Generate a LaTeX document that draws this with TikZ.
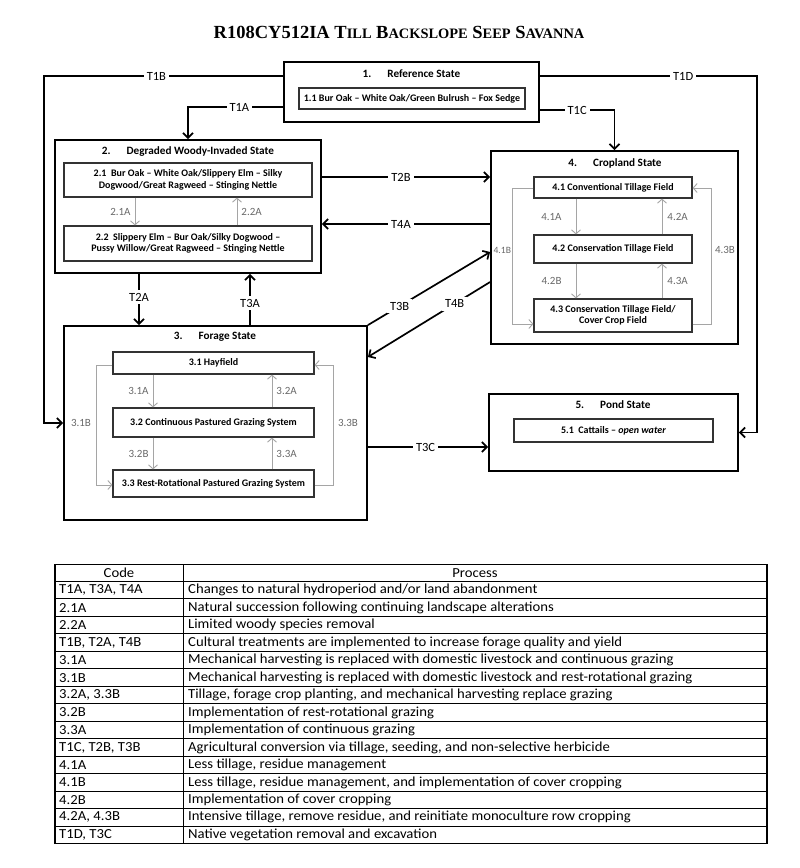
\documentclass[tikz,border=0pt]{standalone}
\usepackage{fontspec}
\setmainfont{Carlito}
\newfontfamily\titlefont{Liberation Serif}
\newfontfamily\tablefont[FakeStretch=1.065]{Carlito}
\usetikzlibrary{arrows.meta,calc}
\definecolor{garr}{RGB}{165,165,165}
\definecolor{glabc}{RGB}{105,105,105}
\newcommand\mysc[1]{{\fontsize{14.4}{15}\selectfont #1}}
\begin{document}
\begin{tikzpicture}[x=1pt,y=-1pt,
  statebox/.style={draw=black, line width=1.8pt, inner sep=0pt},
  subbox/.style={draw=black!80, line width=1.2pt, fill=white, align=center, inner sep=0pt, font=\fontsize{10}{11.5}\selectfont\bfseries},
  stitle/.style={font=\fontsize{11.2}{13}\selectfont\bfseries},
  tarrow/.style={line width=1.7pt, -{Straight Barb[length=5pt,width=10pt]}},
  tlab/.style={fill=white, inner sep=3pt, font=\fontsize{12.5}{14}\selectfont},
  garrow/.style={draw=garr, line width=0.9pt, -{Straight Barb[length=4pt,width=9pt]}},
  glab/.style={text=glabc, inner sep=1pt, font=\fontsize{11}{13}\selectfont},
  thead/.style={font=\tablefont\fontsize{13.8}{15}\selectfont, inner sep=0pt},
  tcell/.style={font=\tablefont\fontsize{13.8}{15}\selectfont, inner sep=0pt, anchor=west},
]
\useasboundingbox (0,0) rectangle (800,868);

% title
\node (title) at (399,32) {\titlefont\fontsize{18.5}{20}\selectfont\bfseries R108CY512IA T\mysc{ILL} B\mysc{ACKSLOPE} S\mysc{EEP} S\mysc{AVANNA}};

% state 1
\node[statebox, minimum width=255, minimum height=60] (s1) at (411.5,92) {};
\node[stitle] (s1t) at (411.5,73.5) {1.\hspace{16pt}Reference State};
\node[subbox, minimum width=226, minimum height=21] (s11) at (412,98.5) {1.1 Bur Oak -- White Oak/Green Bulrush -- Fox Sedge};

% state 2
\node[statebox, minimum width=266, minimum height=133] (s2) at (188,206.5) {};
\node[stitle] (s2t) at (188,152) {2.\hspace{16pt}Degraded Woody-Invaded State};
\node[subbox, minimum width=248, minimum height=34] (s21) at (188,180) {2.1\ \ Bur Oak -- White Oak/Slippery Elm -- Silky\\Dogwood/Great Ragweed -- Stinging Nettle};
\node[subbox, minimum width=248, minimum height=35] (s22) at (188,243.5) {2.2\ \ Slippery Elm -- Bur Oak/Silky Dogwood --\\Pussy Willow/Great Ragweed -- Stinging Nettle};

% state 3
\node[statebox, minimum width=303, minimum height=194] (s3) at (215.5,423) {};
\node[stitle] (s3t) at (215,337) {3.\hspace{16pt}Forage State};
\node[subbox, minimum width=201, minimum height=22] (s31) at (213.5,363) {3.1 Hayfield};
\node[subbox, minimum width=201, minimum height=29] (s32) at (213.5,422.5) {3.2 Continuous Pastured Grazing System};
\node[subbox, minimum width=201, minimum height=27] (s33) at (213.5,483.5) {3.3 Rest-Rotational Pastured Grazing System};

% state 4
\node[statebox, minimum width=247, minimum height=193] (s4) at (614.5,247.5) {};
\node[stitle] (s4t) at (615,163) {4.\hspace{16pt}Cropland State};
\node[subbox, minimum width=158, minimum height=21] (s41) at (613,187.5) {4.1 Conventional Tillage Field};
\node[subbox, minimum width=158, minimum height=28] (s42) at (613,249) {4.2 Conservation Tillage Field};
\node[subbox, minimum width=158, minimum height=33] (s43) at (613,315.5) {4.3 Conservation Tillage Field/\\Cover Crop Field};

% state 5
\node[statebox, minimum width=249, minimum height=77] (s5) at (613.5,432.5) {};
\node[stitle] (s5t) at (613,405) {5.\hspace{16pt}Pond State};
\node[subbox, minimum width=199, minimum height=23] (s51) at (613.5,430.5) {5.1\ \ Cattails -- \textit{open water}};

% transitions between states
\draw[tarrow] ([yshift=16pt]s1.west) -- node[tlab,pos=0.53]{T1B} (44,76) coordinate (k1b) |- (s3.west);
\draw[tarrow] ([yshift=-15pt]s1.west) -| node[tlab,pos=0.23]{T1A} (s2.north);
\draw[tarrow] ([yshift=-18pt]s1.east) -| node[tlab,pos=0.25]{T1C} (s4.north);
\draw[tarrow] ([yshift=16pt]s1.east) -- node[tlab,pos=0.66]{T1D} (757,76) coordinate (k1d) |- (s5.east);
\draw[tarrow] ([yshift=29.5pt]s2.east) coordinate (t2bs) -- node[tlab,pos=0.47]{T2B} (t2bs -| s4.west);
\draw[tarrow] ([yshift=23.5pt]s4.west) coordinate (t4as) -- node[tlab,pos=0.53]{T4A} (t4as -| s2.east);
\draw[tarrow] ([xshift=-49pt]s2.south) coordinate (t2as) -- node[tlab,pos=0.45]{T2A} (t2as |- s3.north);
\draw[tarrow] ([xshift=34.5pt]s3.north) coordinate (t3as) -- node[tlab,pos=0.43]{T3A} (t3as |- s2.south);
\draw[tarrow] (s3.north east) -- node[tlab,pos=0.26]{T3B} ([yshift=-4.5pt]s4.west);
\draw[tarrow] ([yshift=-34.5pt]s4.west) -- node[tlab,pos=0.29]{T4B} ([yshift=66pt]s3.east);
\draw[tarrow] ([yshift=-24pt]s3.east) coordinate (t3cs) -- node[tlab,pos=0.48]{T3C} (t3cs -| s5.west);

% community pathways, state 2
\draw[garrow] ([xshift=-53pt]s21.south) coordinate (a21) -- node[glab,left=3pt]{2.1A} (a21 |- s22.north);
\draw[garrow] ([xshift=49pt]s22.north) coordinate (a22) -- node[glab,right=3pt]{2.2A} (a22 |- s21.south);

% state 3
\draw[garrow] ([xshift=-60.5pt]s31.south) coordinate (a31) -- node[glab,left=3pt]{3.1A} (a31 |- s32.north);
\draw[garrow] ([xshift=58.5pt]s32.north) coordinate (a32) -- node[glab,right=3pt]{3.2A} (a32 |- s31.south);
\draw[garrow] ([xshift=-60.5pt]s32.south) coordinate (b32) -- node[glab,left=3pt]{3.2B} (b32 |- s33.north);
\draw[garrow] ([xshift=58.5pt]s33.north) coordinate (a33) -- node[glab,right=3pt]{3.3A} (a33 |- s32.south);
\draw[garrow] ([yshift=-2pt]s31.west) -- (96,365) coordinate (k31b) |- ([yshift=-1.5pt]s33.west);
\node[glab] (l31b) at (81,423) {3.1B};
\draw[garrow] ([yshift=-1.5pt]s33.east) -- (333,485) coordinate (k33b) |- ([yshift=-2pt]s31.east);
\node[glab] (l33b) at (348,423) {3.3B};

% state 4
\draw[garrow] ([xshift=-37pt]s41.south) coordinate (a41) -- node[glab,left=13pt]{4.1A} (a41 |- s42.north);
\draw[garrow] ([xshift=49pt]s42.north) coordinate (a42) -- node[glab,right=4pt]{4.2A} (a42 |- s41.south);
\draw[garrow] ([xshift=-37pt]s42.south) coordinate (b42) -- node[glab,left=13pt]{4.2B} (b42 |- s43.north);
\draw[garrow] ([xshift=49pt]s43.north) coordinate (a43) -- node[glab,right=4pt]{4.3A} (a43 |- s42.south);
\draw[garrow] ([yshift=-0.5pt]s41.west) -- (512,188) coordinate (k41b) |- ([yshift=-8.5pt]s43.west);
\node[glab, inner sep=0pt, font=\fontsize{9.6}{11}\selectfont] (l41b) at (502.3,250) {4.1B};
\draw[garrow] ([yshift=-8.5pt]s43.east) -- (711,324) coordinate (k43b) |- ([yshift=-0.5pt]s41.east);
\node[glab] (l43b) at (725,250) {4.3B};

% table
\draw[line width=1.1pt] (55,564.5) rectangle (767,843.5);
\draw[line width=1pt] (183,564.5) -- (183,843.5);
\foreach \k in {0,...,14} \draw[line width=1pt] (55,581.5+\k*17.47) -- (767,581.5+\k*17.47);
\node[thead] (hcode) at (119,573) {Code};
\node[thead] (hproc) at (475,573) {Process};
\foreach \c/\p [count=\i] in {
 {T1A, T3A, T4A}/{Changes to natural hydroperiod and/or land abandonment},
 {2.1A}/{Natural succession following continuing landscape alterations},
 {2.2A}/{Limited woody species removal},
 {T1B, T2A, T4B}/{Cultural treatments are implemented to increase forage quality and yield},
 {3.1A}/{Mechanical harvesting is replaced with domestic livestock and continuous grazing},
 {3.1B}/{Mechanical harvesting is replaced with domestic livestock and rest-rotational grazing},
 {3.2A, 3.3B}/{Tillage, forage crop planting, and mechanical harvesting replace grazing},
 {3.2B}/{Implementation of rest-rotational grazing},
 {3.3A}/{Implementation of continuous grazing},
 {T1C, T2B, T3B}/{Agricultural conversion via tillage, seeding, and non-selective herbicide},
 {4.1A}/{Less tillage, residue management},
 {4.1B}/{Less tillage, residue management, and implementation of cover cropping},
 {4.2B}/{Implementation of cover cropping},
 {4.2A, 4.3B}/{Intensive tillage, remove residue, and reinitiate monoculture row cropping},
 {T1D, T3C}/{Native vegetation removal and excavation}} {
  \node[tcell] (code\i) at (59,581.5+\i*17.47-8.73) {\c};
  \node[tcell] (proc\i) at (188,581.5+\i*17.47-8.73) {\p};
}
\end{tikzpicture}
\end{document}
